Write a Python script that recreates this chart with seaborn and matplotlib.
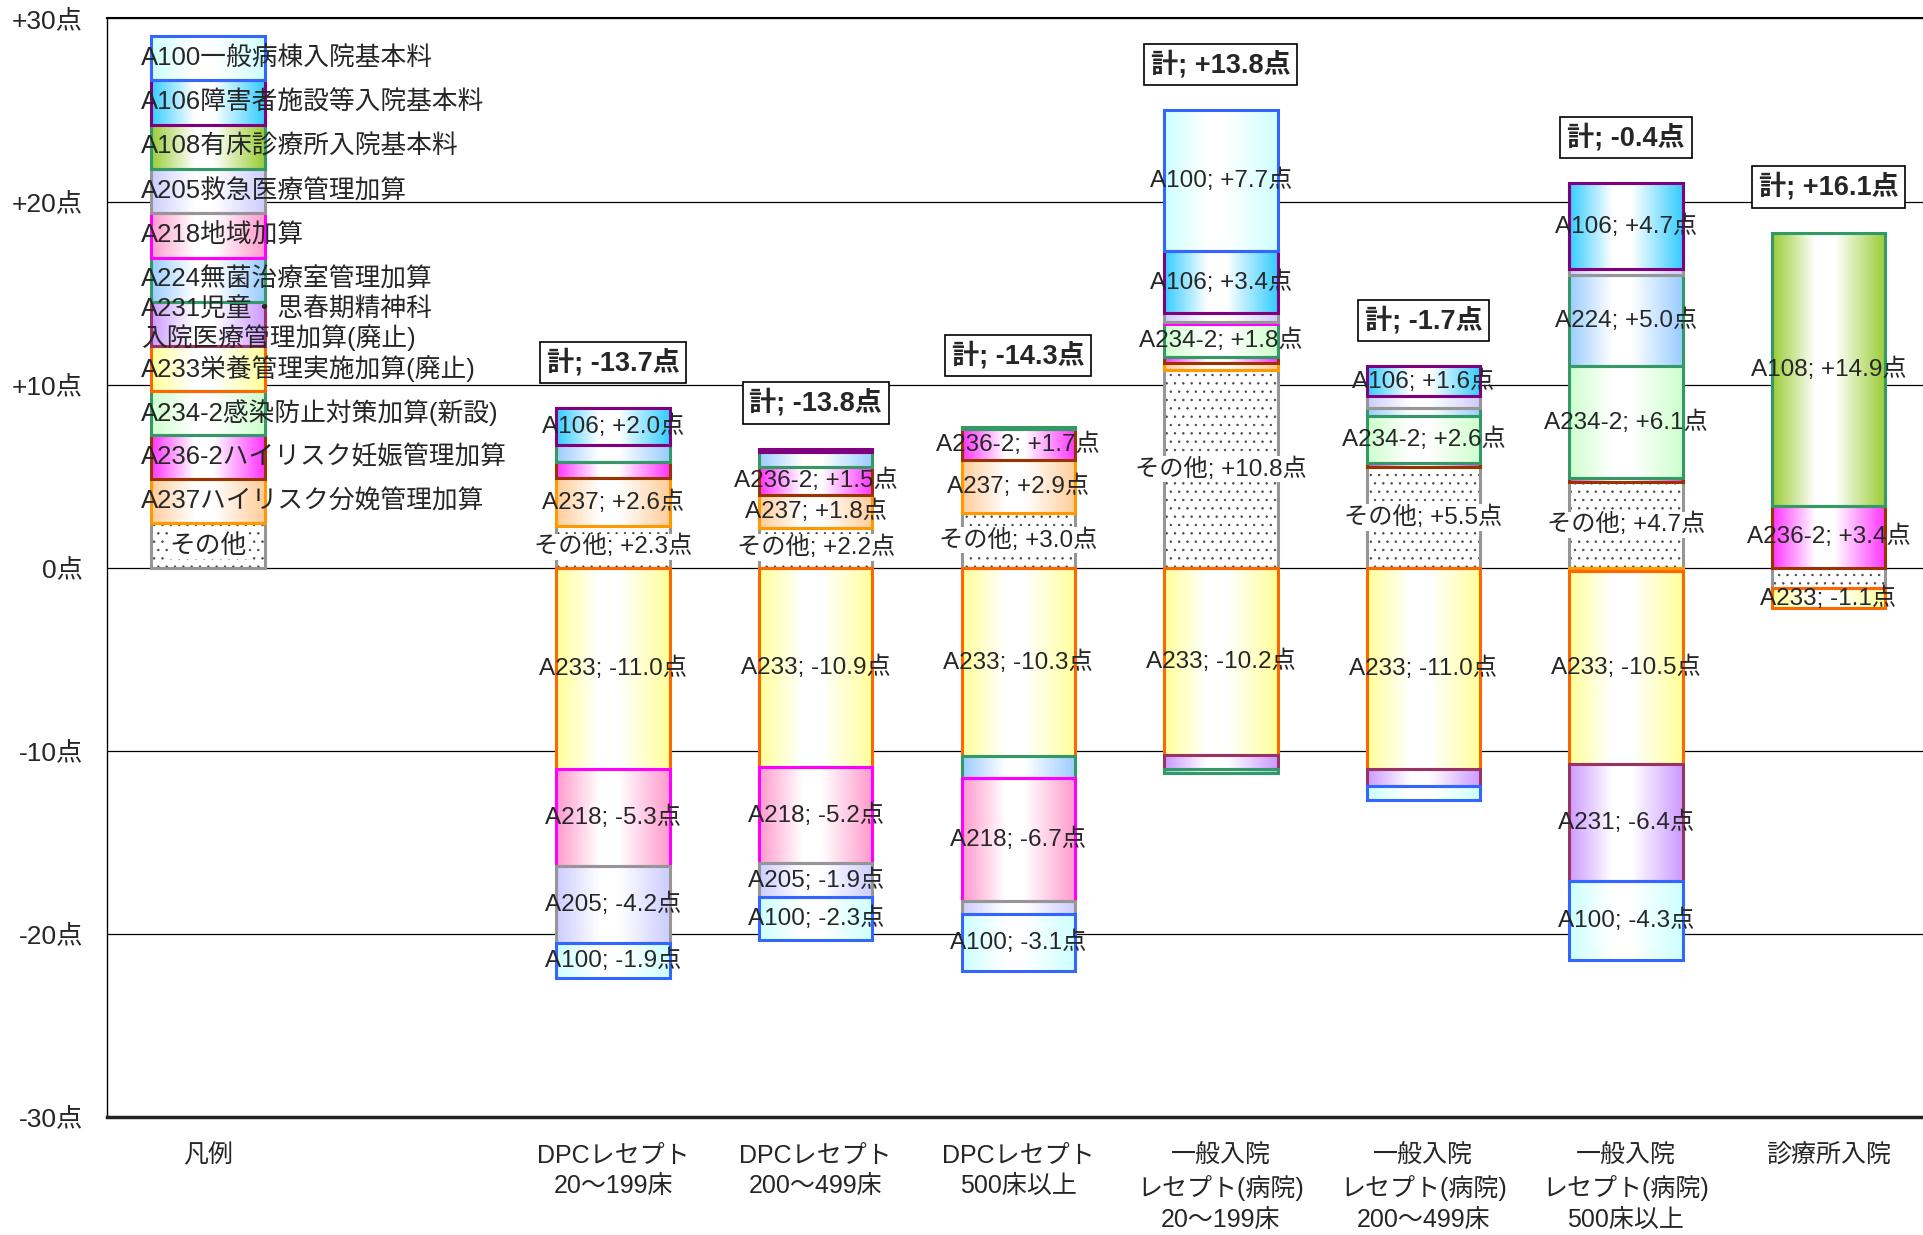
import numpy as np
import pandas as pd
import matplotlib
matplotlib.use("Agg")
import matplotlib.pyplot as plt
import matplotlib.colors as mcolors
import seaborn as sns

# -------------------------------
# 1. Data
# -------------------------------
categories = ["凡例", " ",
              "DPCレセプト\n20～199床", "DPCレセプト\n200～499床", "DPCレセプト\n500床以上",
              "一般入院\nレセプト(病院)\n20～199床", "一般入院\nレセプト(病院)\n200～499床",
              "一般入院\nレセプト(病院)\n500床以上", "診療所入院"]

# stack order, bottom first
series = ["その他", "A237", "A236-2", "A234-2", "A233", "A231",
          "A224", "A218", "A205", "A108", "A106", "A100"]

legend_names = ["その他", "A237ハイリスク分娩管理加算", "A236-2ハイリスク妊娠管理加算",
                "A234-2感染防止対策加算(新設)", "A233栄養管理実施加算(廃止)",
                "A231児童・思春期精神科\n入院医療管理加算(廃止)", "A224無菌治療室管理加算",
                "A218地域加算", "A205救急医療管理加算", "A108有床診療所入院基本料",
                "A106障害者施設等入院基本料", "A100一般病棟入院基本料"]

# values for the 7 real columns (DPC x3, 一般 x3, 診療所)
sonota = [2.3, 2.2, 3.0, 10.8, 5.5, 4.7, -1.1]
a237 = [2.6, 1.8, 2.9, 0.4, 0.0, -0.2, 0.0]
a236_2 = [0.9, 1.5, 1.7, 0.3, 0.2, 0.2, 3.4]
a234_2 = [0.0, 0.0, 0.1, 1.8, 2.6, 6.1, 0.0]
a233 = [-11.0, -10.9, -10.3, -10.2, -11.0, -10.5, -1.1]
a231 = [0.0, 0.0, 0.0, -0.8, -0.9, -6.4, 0.0]
a224 = [0.9, 0.8, -1.2, -0.2, 0.4, 5.0, 0.0]
a218 = [-5.3, -5.2, -6.7, 0.1, 0.0, 0.0, 0.0]
a205 = [-4.2, -1.9, -0.7, 0.5, 0.7, 0.3, 0.0]
a108 = [0.0, 0.0, 0.0, 0.0, 0.0, 0.0, 14.9]
a106 = [2.0, 0.2, 0.0, 3.4, 1.6, 4.7, 0.0]
a100 = [-1.9, -2.3, -3.1, 7.7, -0.8, -4.3, 0.0]
values = [sonota, a237, a236_2, a234_2, a233, a231, a224, a218, a205, a108, a106, a100]

legend_h = 2.42  # height of each legend block

face_colors = ["#FFFFFF", "#FFCC99", "#FF33FF", "#CCFFCC", "#FFFF99", "#CC99FF",
               "#99CCFF", "#FF99CC", "#CCCCFF", "#99CC33", "#33CCFF", "#CCFFFF"]
edge_colors = ["#969696", "#FF9900", "#993300", "#339966", "#FF6600", "#993366",
               "#339966", "#FF00FF", "#969696", "#339966", "#800080", "#3366FF"]

# extra small segments that still get a label
extra_labels = {("診療所入院", "A233")}
total_lift = {"DPCレセプト\n500床以上": 1.4}

# -------------------------------
# 2. Style
# -------------------------------
sns.set_style("white")
plt.rcParams["font.family"] = ["Liberation Sans", "Noto Sans CJK JP"]
plt.rcParams["hatch.linewidth"] = 0.5

fig = plt.figure(figsize=(19.24, 12.35), dpi=100)
ax = fig.add_axes([0.0555, 0.0954, 0.9475, 0.8897])


def add_gradient(patch, color):
    x0, y0 = patch.get_x(), patch.get_y()
    w, h = patch.get_width(), patch.get_height()
    c = np.array(mcolors.to_rgb(color))
    t = np.linspace(0, 1, 256)
    wgt = np.interp(t, [0, 0.38, 0.55, 1], [0, 1, 1, 0])
    rgb = c[None, :] * (1 - wgt[:, None]) + wgt[:, None]
    ylo, yhi = min(y0, y0 + h), max(y0, y0 + h)
    ax.imshow(rgb[None, :, :], extent=[x0, x0 + w, ylo, yhi], aspect="auto",
              zorder=1.5, interpolation="bilinear")


# -------------------------------
# 3. Stacked bars
# -------------------------------
n = len(categories)
pos_base = np.zeros(n)
neg_base = np.zeros(n)
seg_info = []

for k, name in enumerate(series):
    v = np.array([legend_h, 0.0] + values[k])
    bottom = np.where(v >= 0, pos_base, neg_base)
    df = pd.DataFrame({"cat": categories, "value": v})

    if name == "その他":
        sns.barplot(data=df, x="cat", y="value", order=categories, width=0.56,
                    bottom=bottom, color="white", saturation=1, edgecolor="#444444",
                    linewidth=0, hatch="..", errorbar=None, ax=ax, zorder=2)
        for p in ax.containers[-1].patches:
            if p.get_height() == 0:
                p.set_visible(False)

    sns.barplot(data=df, x="cat", y="value", order=categories, width=0.56,
                bottom=bottom, color=face_colors[k], saturation=1, facecolor="none",
                edgecolor=edge_colors[k], linewidth=2.2, errorbar=None, ax=ax, zorder=3)
    for p in ax.containers[-1].patches:
        if p.get_height() == 0:
            p.set_visible(False)
        elif name != "その他":
            add_gradient(p, face_colors[k])

    for i in range(2, n):
        seg_info.append((categories[i], name, v[i], bottom[i], i))

    pos_base += np.clip(v, 0, None)
    neg_base += np.clip(v, None, 0)

# -------------------------------
# 4. Labels
# -------------------------------
seg_fs = 17.5
for cat, name, val, b, i in seg_info:
    if abs(val) >= 1.5 or (cat, name) in extra_labels:
        kw = {}
        if name == "その他":
            kw["bbox"] = dict(facecolor="white", edgecolor="none", pad=1.0)
        ax.text(i, b + val / 2, f"{name}; {val:+.1f}点", ha="center", va="center",
                fontsize=seg_fs, zorder=6, **kw)

for i in range(2, n):
    total = sum(vals[i - 2] for vals in values)
    y = pos_base[i] + 2.5 + total_lift.get(categories[i], 0)
    ax.text(i, y, f"計; {total:+.1f}点", ha="center", va="center", fontsize=19.5,
            fontweight="bold", zorder=7,
            bbox=dict(boxstyle="square,pad=0.25", facecolor="white",
                      edgecolor="black", linewidth=1.2))

# legend texts
for k, name in enumerate(legend_names):
    yc = legend_h * k + legend_h / 2
    if name == "その他":
        ax.text(0, yc, name, ha="center", va="center", fontsize=18.5, zorder=6,
                bbox=dict(facecolor="white", edgecolor="none", pad=1.0))
    else:
        ax.text(-0.33, yc, name, ha="left", va="center", fontsize=18.5,
                linespacing=1.1, zorder=6)

# -------------------------------
# 5. Axes
# -------------------------------
ax.set_xlim(-0.5, n - 0.5)
ax.set_ylim(-30, 30)
yt = np.arange(-30, 31, 10)
ax.set_yticks(yt)
ax.set_yticklabels([f"{t:+d}点" if t != 0 else "0点" for t in yt], fontsize=19)
ax.set_xticks(range(n))
ax.set_xticklabels(categories, fontsize=18, linespacing=1.35)
ax.set_xticks(np.arange(-0.5, n, 1), minor=True)
ax.tick_params(axis="x", which="major", length=0, pad=19)
ax.tick_params(axis="x", which="minor", direction="in", length=6, width=1, color="black")
ax.tick_params(axis="y", length=0, pad=17)
ax.set_xlabel("")
ax.set_ylabel("")

ax.yaxis.grid(True, color="black", linewidth=0.9)
ax.set_axisbelow(True)
ax.spines["right"].set_visible(False)
ax.spines["left"].set_color("black")
ax.spines["left"].set_linewidth(1.0)
ax.spines["top"].set_color("black")
ax.spines["top"].set_linewidth(1.5)
ax.spines["bottom"].set_color("#222222")
ax.spines["bottom"].set_linewidth(2.5)

fig.savefig("out.png", dpi=100)
